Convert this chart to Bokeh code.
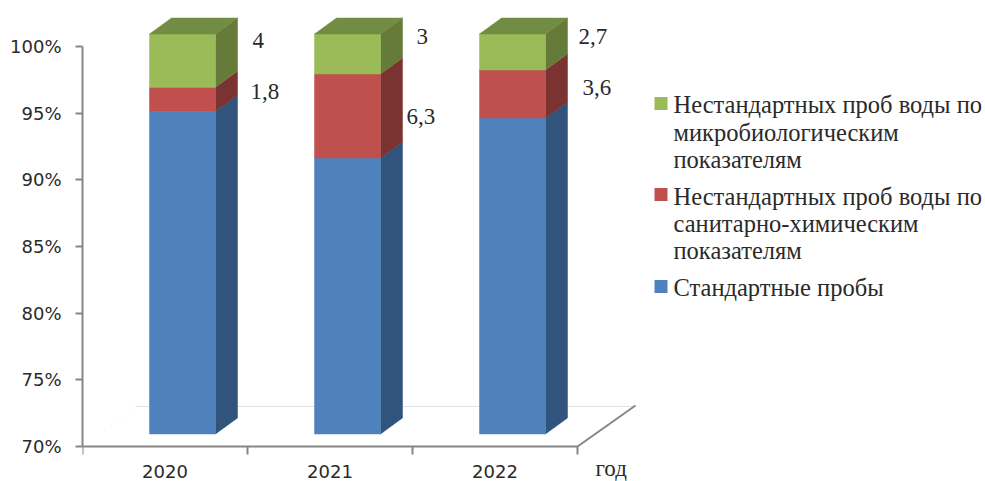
from bokeh.embed import file_html
from bokeh.resources import INLINE
from bokeh.plotting import figure
from bokeh.models import FixedTicker, Label, Range1d
from bokeh.core.properties import value

years = ["2020", "2021", "2022"]
standard = [94.2, 90.7, 93.7]
chemical = [1.8, 6.3, 3.6]
microbio = [4.0, 3.0, 2.7]
chemical_labels = ["1,8", "6,3", "3,6"]
microbio_labels = ["4", "3", "2,7"]
legend_micro = ["Нестандартных проб воды по", "микробиологическим", "показателям"]
legend_chem = ["Нестандартных проб воды по", "санитарно-химическим", "показателям"]
legend_std = ["Стандартные пробы"]
y_ticks = [70, 75, 80, 85, 90, 95, 100]
unit_label = "год"

# --- layout (pixels of the page, converted through the axes' own scale)
PX_X = 165.0
PX_Y = 400 / 30.0
X0, Y0 = 82, 446
def dx(px): return (px - X0) / PX_X
def dy(py): return 70 + (Y0 - py) / PX_Y

FRONT_W = 66 / PX_X
FRONT_SHIFT = 17.5 / PX_X
DEPTH_X = 22 / PX_X
DEPTH_Y = 16 / PX_Y
BASE_LIFT = 12.5 / PX_Y

COL = {
    "blue": ("#4f81bd", "#31547d"),
    "red": ("#c0504d", "#7b3331"),
    "green": ("#9bbb59", "#667a39"),
}
TOP = "#738c43"
AXIS = "#868686"
TEXT = "#2a2a2a"
SERIF = "Liberation Serif"
SANS = "DejaVu Sans"

p = figure(width=985, height=481, output_backend="svg", toolbar_location=None,
           x_range=Range1d(0, (985 - X0) / PX_X), y_range=Range1d(dy(481), dy(0)),
           min_border_left=X0, min_border_right=0, min_border_top=0,
           min_border_bottom=0, outline_line_color=None,
           background_fill_color="white", border_fill_color="white")
p.grid.visible = False

# axes
ya = p.yaxis[0]
ya.ticker = FixedTicker(ticks=y_ticks)
ya.major_label_overrides = {v: f"{v}%" for v in y_ticks}
ya.bounds = (70, 100)
ya.axis_line_color = AXIS
ya.axis_line_width = 2
ya.major_tick_line_color = AXIS
ya.major_tick_line_width = 2
ya.major_tick_out = 7
ya.major_tick_in = 0
ya.minor_tick_out = 0
ya.minor_tick_in = 0
ya.major_label_standoff = 14
ya.major_label_text_font = SANS
ya.major_label_text_font_size = "18px"
ya.major_label_text_color = TEXT

xa = p.xaxis[0]
xa.fixed_location = 70
n = len(years)
centers = [i + 0.5 for i in range(n)]
xa.ticker = FixedTicker(ticks=centers, minor_ticks=list(range(n + 1)))
xa.major_label_overrides = {c: y for c, y in zip(centers, years)}
xa.bounds = (0, n)
xa.axis_line_color = AXIS
xa.axis_line_width = 2
xa.major_tick_out = 0
xa.major_tick_in = 0
xa.minor_tick_line_color = AXIS
xa.minor_tick_line_width = 2
xa.minor_tick_out = 8
xa.minor_tick_in = 0
xa.major_label_standoff = 10
xa.major_label_text_font = SANS
xa.major_label_text_font_size = "18px"
xa.major_label_text_color = TEXT

# floor of the 3-D box
p.line([dx(135), dx(635)], [dy(406), dy(406)], line_color="#e2e2e2", line_width=1)
p.line([dx(577), dx(635)], [dy(446), dy(405)], line_color=AXIS, line_width=2)
p.line([dx(104), dx(135)], [dy(431), dy(407)], line_color="#e6e6e6", line_width=1,
       line_dash="1 7")

# bars
def box(i, low, high):
    l = i + 0.5 + FRONT_SHIFT - FRONT_W / 2
    r = l + FRONT_W
    lo, hi = low + BASE_LIFT, high + BASE_LIFT
    return dict(
        front=([l, r, r, l], [lo, lo, hi, hi]),
        side=([r, r + DEPTH_X, r + DEPTH_X, r],
              [lo, lo + DEPTH_Y, hi + DEPTH_Y, hi]),
        top=([l, r, r + DEPTH_X, l + DEPTH_X],
             [hi, hi, hi + DEPTH_Y, hi + DEPTH_Y]),
    )

def draw(series_low, series_val, col):
    fx, fy, sx, sy = [], [], [], []
    for i in range(n):
        b = box(i, series_low[i], series_low[i] + series_val[i])
        fx.append(b["front"][0]); fy.append(b["front"][1])
        sx.append(b["side"][0]); sy.append(b["side"][1])
    p.patches(sx, sy, fill_color=COL[col][1], line_color=COL[col][1], line_width=0.5)
    p.patches(fx, fy, fill_color=COL[col][0], line_color=COL[col][0], line_width=0.5)

base = [70.0] * n
draw(base, [s - 70 for s in standard], "blue")
draw(standard, chemical, "red")
tops_low = [s + c for s, c in zip(standard, chemical)]
draw(tops_low, microbio, "green")
tx, ty = [], []
for i in range(n):
    b = box(i, tops_low[i], tops_low[i] + microbio[i])
    tx.append(b["top"][0]); ty.append(b["top"][1])
p.patches(tx, ty, fill_color=TOP, line_color=TOP, line_width=0.5)

# data labels
micro_pos = [(252, 40), (416, 36), (578, 36)]
chem_pos = [(250, 91), (406, 116), (582, 87)]
for txt, (px, py) in zip(microbio_labels + chemical_labels, micro_pos + chem_pos):
    p.add_layout(Label(x=dx(px), y=dy(py), text=txt, text_font=SERIF,
                       text_font_size="23px", text_color=TEXT,
                       text_baseline="middle", text_align="left"))

p.add_layout(Label(x=dx(595), y=dy(468), text=unit_label, text_font=SERIF,
                   text_font_size="23px", text_color=TEXT,
                   text_baseline="middle", text_align="left"))

# legend
entries = [(legend_micro, COL["green"][0], 103, [104, 132, 159]),
           (legend_chem, COL["red"][0], 194, [196, 223, 250]),
           (legend_std, COL["blue"][0], 286, [287])]
for lines, colour, sq_y, line_ys in entries:
    p.scatter([dx(660.5)], [dy(sq_y)], marker="square", size=13,
              fill_color=colour, line_color=colour, line_width=0)
    p.text([dx(673)] * len(lines), [dy(v) for v in line_ys], text=lines,
           text_font=value(SERIF), text_font_size="24.5px", text_color=TEXT,
           text_baseline="middle", text_align="left")

open("out.html", "w").write(file_html(p, INLINE))
